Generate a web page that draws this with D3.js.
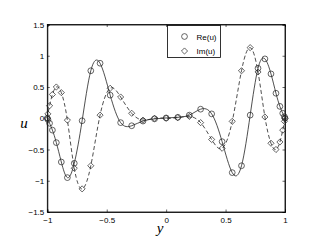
<!DOCTYPE html>
<html>
<head>
<meta charset="utf-8">
<script src="https://cdn.jsdelivr.net/npm/d3@7"></script>
<style>
    body { margin: 0; background: #fff; }
    #chart { width: 322px; height: 246px; }
    .tick text { font-family: "Liberation Sans", Arial, sans-serif; font-size: 8px; fill: #000; }
</style>
</head>
<body>
<div id="chart"></div>
<script>
// chebyshev grid (33 pts)
var yGrid = [-1, -0.995, -0.981, -0.957, -0.924, -0.882, -0.831, -0.773, -0.707, -0.634, -0.556,
    -0.471, -0.383, -0.290, -0.195, -0.098, 0, 0.098, 0.195, 0.290, 0.383, 0.471,
    0.556, 0.634, 0.707, 0.773, 0.831, 0.882, 0.924, 0.957, 0.981, 0.995, 1];
var reU = [0, -0.02, -0.08, -0.19, -0.39, -0.70, -0.95, -0.72, -0.04, 0.76, 0.88,
    0.37, -0.07, -0.12, -0.045, -0.01, 0.005, 0.015, 0.05, 0.145, 0.07, -0.375,
    -0.87, -0.76, 0.05, 0.80, 0.95, 0.71, 0.40, 0.19, 0.08, 0.025, 0];
var imU = [0, 0.07, 0.2, 0.38, 0.50, 0.41, -0.03, -0.80, -1.13, -0.76, 0.05,
    0.48, 0.34, 0.08, -0.03, 0, 0, 0.01, 0.03, -0.07, -0.34, -0.48,
    -0.05, 0.76, 1.13, 0.74, 0.02, -0.40, -0.50, -0.38, -0.19, -0.05, 0];
var xTicks = [-1, -0.5, 0, 0.5, 1];
var yTicks = [-1.5, -1, -0.5, 0, 0.5, 1, 1.5];
var legendNames = ["Re(u)", "Im(u)"];

class CoefPlot {
    divID = "chart";
    width = 322;
    height = 246;
    // axes box in px
    left = 47.3;
    right = 285;
    top = 24.5;
    bottom = 212;
    svg = null;
    x = null;
    y = null;

    init() {
        this.svg = d3.select("#" + this.divID)
            .append("svg")
            .attr("width", this.width)
            .attr("height", this.height);

        this.x = d3.scaleLinear().domain([-1, 1]).range([this.left, this.right]);
        this.y = d3.scaleLinear().domain([-1.5, 1.5]).range([this.bottom, this.top]);
    }

    minus(v) {
        return String(v).replace("-", "\u2212");
    }

    drawAxes() {
        var w = this.right - this.left, h = this.bottom - this.top;
        var tl = 2.5;

        // bottom + left with labels, ticks inward
        this.svg.append("g")
            .attr("transform", "translate(0," + this.bottom + ")")
            .call(d3.axisBottom(this.x).tickValues(xTicks).tickSize(-tl).tickPadding(5).tickFormat((d) => this.minus(d)));
        this.svg.append("g")
            .attr("transform", "translate(" + this.left + ",0)")
            .call(d3.axisLeft(this.y).tickValues(yTicks).tickSize(-tl).tickPadding(3).tickFormat((d) => this.minus(d)));
        // top + right, ticks only
        this.svg.append("g")
            .attr("transform", "translate(0," + this.top + ")")
            .call(d3.axisTop(this.x).tickValues(xTicks).tickSize(-tl).tickFormat(""));
        this.svg.append("g")
            .attr("transform", "translate(" + this.right + ",0)")
            .call(d3.axisRight(this.y).tickValues(yTicks).tickSize(-tl).tickFormat(""));

        this.svg.selectAll(".domain").attr("stroke", "#000").attr("stroke-width", 0.8);
        this.svg.selectAll(".tick line").attr("stroke", "#000").attr("stroke-width", 0.6);

        this.svg.append("rect")
            .attr("x", this.left).attr("y", this.top)
            .attr("width", w).attr("height", h)
            .attr("fill", "none").attr("stroke", "#000").attr("stroke-width", 0.8);

        // axis labels
        this.svg.append("text")
            .attr("x", 24).attr("y", 128)
            .attr("text-anchor", "middle")
            .style("font-family", "'Liberation Serif', 'DejaVu Serif', serif")
            .style("font-style", "italic").style("font-size", "15px")
            .text("u");
        this.svg.append("text")
            .attr("x", 160).attr("y", 233)
            .attr("text-anchor", "middle")
            .style("font-family", "'Liberation Serif', 'DejaVu Serif', serif")
            .style("font-style", "italic").style("font-size", "15px")
            .text("y");
    }

    drawSeries(vals, dash, marker) {
        var line = d3.line()
            .x((d, i) => this.x(yGrid[i]))
            .y((d) => this.y(d))
            .curve(d3.curveNatural);
        this.svg.append("path")
            .datum(vals)
            .attr("d", line)
            .attr("fill", "none")
            .attr("stroke", "#222")
            .attr("stroke-width", 0.8)
            .attr("stroke-dasharray", dash);

        var sym = d3.symbol().type(marker == "circle" ? d3.symbolCircle : d3.symbolDiamond2).size(marker == "circle" ? 26 : 24);
        this.svg.append("g").selectAll("path")
            .data(vals)
            .enter()
            .append("path")
            .attr("d", sym)
            .attr("transform", (d, i) => "translate(" + this.x(yGrid[i]) + "," + this.y(d) + ")")
            .attr("fill", "none")
            .attr("stroke", "#222")
            .attr("stroke-width", 0.7);
    }

    drawLegend() {
        var g = this.svg.append("g");
        g.append("rect")
            .attr("x", 167.5).attr("y", 25.5)
            .attr("width", 53).attr("height", 32)
            .attr("fill", "#fff").attr("stroke", "#000").attr("stroke-width", 0.8);

        var types = [d3.symbolCircle, d3.symbolDiamond2];
        var sizes = [26, 24];
        legendNames.forEach((name, i) => {
            var cy = 36.5 + i * 14.5;
            g.append("path")
                .attr("d", d3.symbol().type(types[i]).size(sizes[i]))
                .attr("transform", "translate(184.5," + cy + ")")
                .attr("fill", "none").attr("stroke", "#222").attr("stroke-width", 0.7);
            g.append("text")
                .attr("x", 196.5).attr("y", cy + 3)
                .style("font-family", "'Liberation Sans', Arial, sans-serif")
                .style("font-size", "8px")
                .text(name);
        });
    }

    render() {
        this.drawAxes();
        this.drawSeries(reU, null, "circle");
        this.drawSeries(imU, "4,2.5", "diamond");
        this.drawLegend();
    }
}

var plot = new CoefPlot();
plot.init();
plot.render();
</script>
</body>
</html>
